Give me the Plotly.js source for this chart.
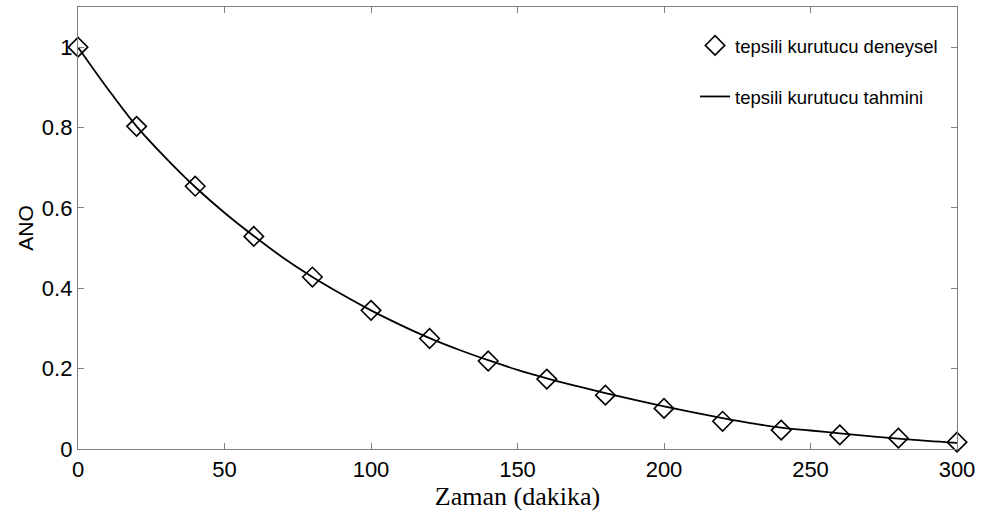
<!DOCTYPE html>
<html>
<head>
<meta charset="utf-8">
<script src="https://cdn.plot.ly/plotly-3.0.1.min.js"></script>
<style>html,body{margin:0;padding:0;background:#fff;}#chart{width:984px;height:515px;}</style>
</head>
<body>
<div id="chart"></div>
<script>
// Experimental points (tepsili kurutucu deneysel)
const expTime = [0, 20, 40, 60, 80, 100, 120, 140, 160, 180, 200, 220, 240, 260, 280, 300];
const expANO  = [1.0, 0.803, 0.654, 0.529, 0.428, 0.345, 0.275, 0.219, 0.174, 0.134, 0.101, 0.069, 0.047, 0.035, 0.027, 0.017];

// Predicted curve (tepsili kurutucu tahmini)
const fitTime = [0, 10, 20, 30, 40, 50, 60, 70, 80, 90, 100, 110, 120, 130, 140, 150, 160, 170, 180, 190, 200, 210, 220, 230, 240, 250, 260, 270, 280, 290, 300];
const fitANO  = [1.0, 0.898, 0.803, 0.724, 0.652, 0.588, 0.530, 0.476, 0.428, 0.385, 0.345, 0.309, 0.276, 0.247, 0.221, 0.197, 0.176, 0.157, 0.139, 0.122, 0.106, 0.091, 0.077, 0.064, 0.053, 0.046, 0.039, 0.032, 0.026, 0.020, 0.015];

const xTicks = [0, 50, 100, 150, 200, 250, 300];
const yTicks = [0, 0.2, 0.4, 0.6, 0.8, 1];
const yTickText = ['0', '0.2', '0.4', '0.6', '0.8', '1'];

const traces = [
  {
    x: expTime, y: expANO, type: 'scatter', mode: 'markers',
    name: 'tepsili kurutucu deneysel', legendgroup: 'a',
    cliponaxis: false,
    marker: {symbol: 'diamond-open', size: 15, color: '#000', line: {color: '#000', width: 1.6}}
  },
  {
    x: fitTime, y: fitANO, type: 'scatter', mode: 'lines',
    name: 'tepsili kurutucu tahmini', legendgroup: 'b',
    line: {color: '#000', width: 1.8, shape: 'spline'}
  }
];

const axisCommon = {
  showgrid: false, zeroline: false, showline: true, linecolor: '#808080', linewidth: 1.2,
  mirror: 'ticks', ticks: 'inside', ticklen: 6, tickcolor: '#808080', tickwidth: 1,
  tickfont: {family: 'Liberation Sans, Arial, sans-serif', size: 22, color: '#000'}
};

const layout = {
  width: 984, height: 515,
  margin: {l: 78, r: 27, t: 7, b: 66},
  paper_bgcolor: '#fff', plot_bgcolor: '#fff',
  showlegend: true,
  legend: {
    x: 0.702, y: 0.955, xanchor: 'left', yanchor: 'top',
    bgcolor: 'rgba(0,0,0,0)', borderwidth: 0,
    traceorder: 'grouped', tracegroupgap: 24,
    font: {family: 'Liberation Sans, Arial, sans-serif', size: 18.5, color: '#000'}
  },
  xaxis: Object.assign({}, axisCommon, {
    range: [0, 300], tickvals: xTicks,
    title: {text: 'Zaman (dakika)', standoff: 2,
      font: {family: 'Liberation Serif, Times New Roman, serif', size: 26, color: '#000'}}
  }),
  yaxis: Object.assign({}, axisCommon, {
    range: [0, 1.1], tickvals: yTicks, ticktext: yTickText,
    title: {text: 'ANO', standoff: 2,
      font: {family: 'Liberation Sans, Arial, sans-serif', size: 21, color: '#000'}}
  })
};

Plotly.newPlot('chart', traces, layout, {displayModeBar: false, staticPlot: true});
</script>
</body>
</html>
